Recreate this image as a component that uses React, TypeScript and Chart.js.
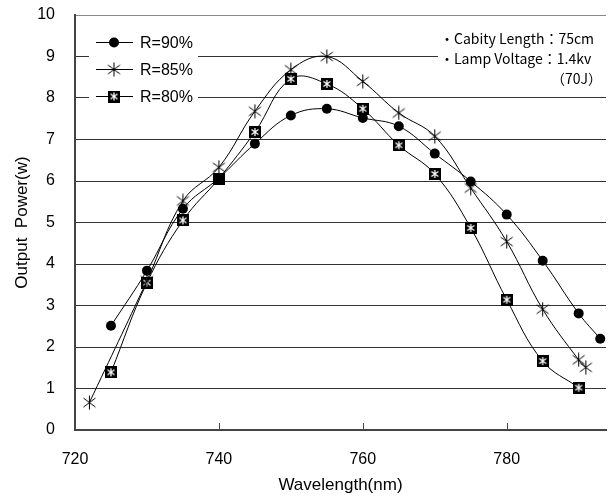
import React, { useEffect, useRef } from 'react';
import { Chart, registerables } from 'chart.js';
Chart.register(...registerables);

// ---- data ----
const wavelength90 = [725, 730, 735, 740, 745, 750, 755, 760, 765, 770, 775, 780, 785, 790, 793];
const power90 = [2.51, 3.84, 5.33, 6.07, 6.9, 7.58, 7.74, 7.52, 7.32, 6.66, 5.99, 5.19, 4.08, 2.81, 2.2];

const wavelength85 = [722, 730, 735, 740, 745, 750, 755, 760, 765, 770, 775, 780, 785, 790, 791];
const power85 = [0.66, 3.6, 5.52, 6.33, 7.68, 8.68, 9.0, 8.4, 7.64, 7.08, 5.83, 4.54, 2.91, 1.69, 1.51];

const wavelength80 = [725, 730, 735, 740, 745, 750, 755, 760, 765, 770, 775, 780, 785, 790];
const power80 = [1.39, 3.55, 5.05, 6.06, 7.18, 8.46, 8.34, 7.74, 6.86, 6.17, 4.87, 3.14, 1.66, 1.02];

const seriesLabels = ['R=90%', 'R=85%', 'R=80%'];
const xTickValues = [720, 740, 760, 780];
const notes = ['・Cabity Length：75cm', '・Lamp Voltage：1.4kv', '（70J）'];

const FONT = "'Liberation Sans', Arial, sans-serif";

function makeAsterisk(): HTMLCanvasElement {
  const c = document.createElement('canvas');
  c.width = 15; c.height = 15;
  const g = c.getContext('2d')!;
  g.strokeStyle = '#000';
  g.lineWidth = 1;
  g.beginPath();
  g.moveTo(7.5, 0.5); g.lineTo(7.5, 14.5);
  g.moveTo(1.5, 3); g.lineTo(13.5, 12);
  g.moveTo(13.5, 3); g.lineTo(1.5, 12);
  g.stroke();
  return c;
}

function makeBoxAsterisk(): HTMLCanvasElement {
  const c = document.createElement('canvas');
  c.width = 12; c.height = 12;
  const g = c.getContext('2d')!;
  g.fillStyle = '#000';
  g.fillRect(0, 0, 12, 12);
  g.strokeStyle = '#fff';
  g.lineWidth = 1.3;
  g.beginPath();
  g.moveTo(6, 2); g.lineTo(6, 10);
  g.moveTo(2.5, 3.5); g.lineTo(9.5, 8.5);
  g.moveTo(9.5, 3.5); g.lineTo(2.5, 8.5);
  g.stroke();
  return c;
}

export default function App() {
  const ref = useRef<HTMLCanvasElement>(null);

  useEffect(() => {
    const star = makeAsterisk();
    const boxStar = makeBoxAsterisk();
    const toPts = (xs: number[], ys: number[]) => xs.map((x, i) => ({ x, y: ys[i] }));

    const overlay = {
      id: 'overlay',
      beforeDatasetsDraw(chart: any) {
        const ctx = chart.ctx;
        ctx.save();
        ctx.fillStyle = '#fff';
        ctx.fillRect(89, 28, 109, 82);
        ctx.fillRect(438, 28, 173, 62);
        // inner tick marks on x axis
        const xs = chart.scales.x;
        const bottom = chart.chartArea.bottom;
        ctx.strokeStyle = '#444';
        ctx.lineWidth = 1;
        ctx.beginPath();
        xTickValues.slice(1).forEach((v) => {
          const px = Math.round(xs.getPixelForValue(v)) + 0.5;
          ctx.moveTo(px, bottom);
          ctx.lineTo(px, bottom - 7);
        });
        ctx.stroke();
        ctx.restore();
      },
      afterDraw(chart: any) {
        const ctx = chart.ctx;
        ctx.save();
        const rows = [42.5, 69.5, 96.5];
        ctx.font = `16px ${FONT}`;
        ctx.textBaseline = 'middle';
        ctx.fillStyle = '#000';
        rows.forEach((y, i) => {
          ctx.strokeStyle = '#000';
          ctx.lineWidth = 1;
          ctx.beginPath();
          ctx.moveTo(96, y);
          ctx.lineTo(133, y);
          ctx.stroke();
          if (i === 0) {
            ctx.beginPath();
            ctx.arc(114, y, 5, 0, Math.PI * 2);
            ctx.fill();
          } else if (i === 1) {
            ctx.drawImage(star, 114 - 7.5, y - 7.5);
          } else {
            ctx.drawImage(boxStar, 114 - 6, y - 6);
          }
          ctx.fillText(seriesLabels[i], 140, y + 1);
        });
        ctx.font = `14px 'Noto Sans CJK JP', sans-serif`;
        ctx.textBaseline = 'middle';
        ctx.textAlign = 'left';
        ctx.fillText(notes[0], 440, 39);
        ctx.fillText(notes[1], 440, 59);
        ctx.textAlign = 'right';
        ctx.fillText(notes[2], 602, 79);
        ctx.restore();
      },
    };

    const chart = new Chart(ref.current!, {
      type: 'line',
      data: {
        datasets: [
          {
            label: seriesLabels[0],
            data: toPts(wavelength90, power90),
            borderColor: '#000',
            borderWidth: 1,
            backgroundColor: '#000',
            pointStyle: 'circle',
            pointRadius: 5,
            pointBorderWidth: 0,
            tension: 0.4,
          },
          {
            label: seriesLabels[1],
            data: toPts(wavelength85, power85),
            borderColor: '#000',
            borderWidth: 1,
            backgroundColor: '#000',
            pointStyle: star as any,
            tension: 0.4,
          },
          {
            label: seriesLabels[2],
            data: toPts(wavelength80, power80),
            borderColor: '#000',
            borderWidth: 1,
            backgroundColor: '#000',
            pointStyle: boxStar as any,
            tension: 0.4,
          },
        ],
      },
      options: {
        animation: false,
        responsive: false,
        maintainAspectRatio: false,
        layout: { padding: { top: 15, left: 0, right: 0, bottom: 0 } },
        plugins: { legend: { display: false }, tooltip: { enabled: false } },
        elements: { line: { fill: false } },
        scales: {
          x: {
            type: 'linear',
            min: 720,
            max: 793.8,
            afterBuildTicks: (s: any) => {
              s.ticks = xTickValues.map((v) => ({ value: v }));
            },
            afterFit: (s: any) => {
              s.height = 68;
            },
            grid: { display: true, drawOnChartArea: false, drawTicks: false, color: 'rgba(0,0,0,0)' },
            border: { display: true, color: '#444', width: 2 },
            ticks: { color: '#000', font: { family: FONT, size: 16 }, padding: 20, maxRotation: 0, autoSkip: false },
            title: {
              display: true,
              text: 'Wavelength(nm)',
              color: '#000',
              font: { family: FONT, size: 17 },
              padding: { top: 0, bottom: 2 },
            },
          },
          y: {
            min: 0,
            max: 10,
            afterFit: (s: any) => {
              s.width = 75;
              s.paddingTop = 0;
              s.paddingBottom = 0;
            },
            ticks: { stepSize: 1, color: '#000', font: { family: FONT, size: 16 }, padding: 20 },
            grid: {
              drawTicks: false,
              color: (c: any) => (c.tick && c.tick.value === 10 ? '#888' : c.tick && c.tick.value === 0 ? 'rgba(0,0,0,0)' : '#333'),
              lineWidth: 1,
            },
            border: { display: true, color: '#444', width: 2 },
            title: {
              display: true,
              text: 'Output  Power(w)',
              color: '#000',
              font: { family: FONT, size: 17 },
              padding: { top: 12, bottom: 0 },
            },
          },
        },
      },
      plugins: [overlay],
    });
    return () => chart.destroy();
  }, []);

  return (
    <div style={{ position: 'fixed', left: 0, top: 0, width: 611, height: 498, background: '#fff' }}>
      <canvas ref={ref} width={611} height={498} style={{ display: 'block' }} />
    </div>
  );
}
